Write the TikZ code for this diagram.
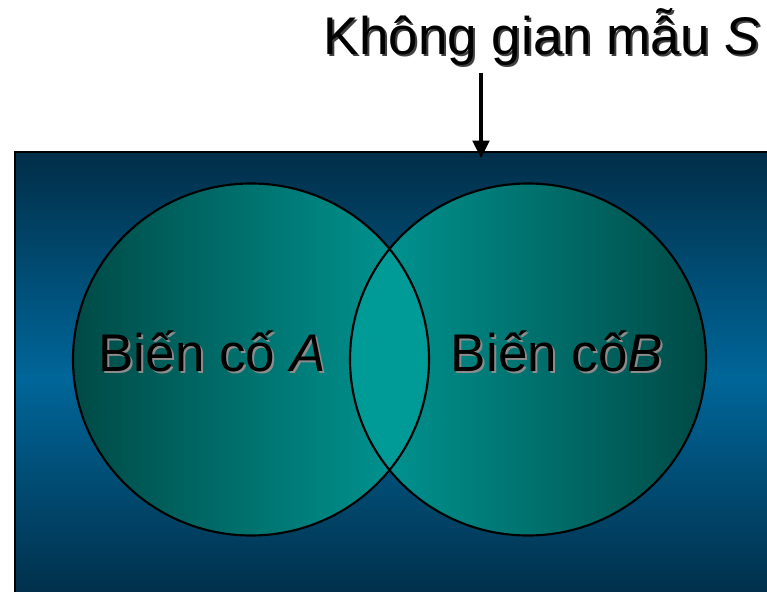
\documentclass[tikz,border=0pt]{standalone}
\usepackage{fontspec}
\setmainfont{Liberation Sans}
\usepackage{tikz}
\usetikzlibrary{arrows.meta, positioning}

\definecolor{spacedark}{HTML}{012E48}
\definecolor{spacemid}{HTML}{006699}
\definecolor{eventdark}{HTML}{004A46}
\definecolor{eventlight}{HTML}{009A97}

% text with a grey drop shadow
\newcommand{\shadowed}[2][black!45]{\makebox[0pt][l]{\kern1.5pt\raisebox{-1.5pt}{\color{#1}#2}}#2}

\begin{document}
\begin{tikzpicture}[
		x=0.75pt, y=0.75pt,
		spacebox/.style={
			draw=black,
			line width=1.5pt,
			top color=spacedark,
			bottom color=spacedark,
			middle color=spacemid
		},
		eventline/.style={
			draw=black,
			line width=1.6pt
		},
		label/.style={
			anchor=base,
			inner sep=0pt,
			text=black,
			font=\fontsize{39.75}{48}\selectfont
		},
		arrow/.style={
			line width=2.3pt,
			-{Triangle[length=13pt, width=12.5pt]}
		}
	]
	
	\useasboundingbox (0,0) rectangle (767,592);
	\clip (0,0) rectangle (767,592);
	
	% sample space
	\path[spacebox] (15,440) rectangle (790,-10);
	
	% the two events
	\path[left color=eventdark, right color=eventlight] (251,232.5) ellipse [x radius=178, y radius=176];
	\path[left color=eventlight, right color=eventdark] (528,232.5) ellipse [x radius=178, y radius=176];
	\begin{scope}
		\clip (251,232.5) ellipse [x radius=178, y radius=176];
		\fill[eventlight] (528,232.5) ellipse [x radius=178, y radius=176];
	\end{scope}
	\draw[eventline] (251,232.5) ellipse [x radius=178, y radius=176];
	\draw[eventline] (528,232.5) ellipse [x radius=178, y radius=176];
	
	\node[label] (A) at (212,220) {\shadowed{Biến cố \textit{A}}};
	\node[label] (B) at (557,220) {\shadowed{Biến cố\textit{B}}};
	
	\node[label] (S) at (542,537) {\shadowed[black!75]{Không gian mẫu \textit{S}}};
	\coordinate (Sarrow) at (481,519);
	\coordinate (Stop) at (481,434);
	
	\draw[arrow] (Sarrow) -- (Stop);
	
\end{tikzpicture}
\end{document}
